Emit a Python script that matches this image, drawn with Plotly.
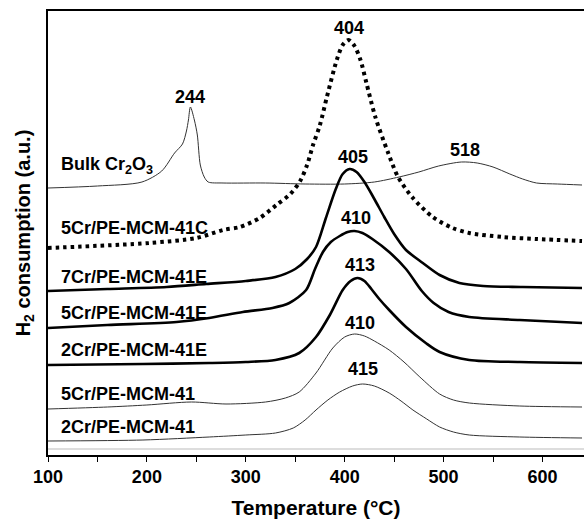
import plotly.graph_objects as go

# ---- data (temperature in °C, signal in arbitrary units, curves already offset) ----
bulk_T = [100, 150, 195, 215, 228, 236, 240, 242, 244, 248, 251, 254, 258, 262, 277, 320, 360, 400, 430,
          455, 475, 495, 518, 534, 550, 567, 580, 594, 615, 640]
bulk_y = [267, 269, 273, 284, 302, 311, 324, 335, 348, 335, 320, 290, 278, 273, 272, 272, 271, 271, 273,
          278, 283, 289, 293, 292, 288, 281, 276, 272, 271, 270]

c41C_T = [100, 202, 250, 277, 294, 314, 331, 345, 355, 362, 368, 375, 382, 392, 398, 404, 410, 416, 422,
          431, 444, 454, 469, 489, 509, 526, 560, 594, 640]
c41C_y = [207, 212, 217, 225, 228, 237, 250, 261, 274, 290, 310, 330, 358, 395, 410, 415, 409, 395, 372,
          338, 302, 278, 257, 238, 227, 222, 218, 216, 214]

e7_T = [100, 160, 220, 260, 300, 330, 350, 362, 371, 381, 391, 398, 405, 412, 420, 430, 440, 450, 462,
        479, 496, 516, 540, 580, 640]
e7_y = [164, 166, 168, 171, 174, 178, 186, 196, 208, 237, 266, 281, 286, 283, 273, 256, 238, 221, 205,
        192, 180, 172, 169, 168, 167]

e5_T = [100, 160, 230, 263, 297, 327, 344, 361, 370, 378, 386, 395, 403, 410, 418, 428, 445, 462, 478,
        490, 505, 526, 577, 640]
e5_y = [127, 130, 133, 137, 143, 147, 152, 165, 186, 203, 213, 219, 223, 224, 222, 216, 203, 186, 164,
        152, 143, 138, 135, 132]

e2_T = [100, 196, 263, 300, 330, 354, 371, 385, 398, 406, 413, 420, 427, 435, 445, 462, 482, 496, 526,
        577, 640]
e2_y = [90, 91, 92, 93, 95, 102, 118, 140, 165, 174, 177, 174, 166, 156, 145, 128, 112, 103, 95, 93, 92]

p5_T = [100, 160, 200, 245, 280, 320, 340, 354, 371, 388, 400, 410, 420, 430, 445, 460, 476, 496, 510,
        526, 577, 640]
p5_y = [46, 48, 50, 53, 51, 53, 57, 63, 82, 107, 118, 121, 119, 114, 105, 93, 78, 61, 55, 52, 49, 48]

p2_T = [100, 196, 263, 300, 330, 348, 360, 371, 383, 395, 408, 418, 430, 445, 457, 469, 483, 496, 510,
        526, 577, 640]
p2_y = [14, 15, 18, 20, 22, 27, 35, 45, 55, 63, 69, 71, 69, 62, 54, 45, 36, 28, 23, 20, 18, 17]

series_names = ["Bulk Cr<sub>2</sub>O<sub>3</sub>", "5Cr/PE-MCM-41C", "7Cr/PE-MCM-41E",
                "5Cr/PE-MCM-41E", "2Cr/PE-MCM-41E", "5Cr/PE-MCM-41", "2Cr/PE-MCM-41"]
name_label_y = [290, 227, 178, 142, 105, 61, 28]

peak_T = [244, 404, 518, 405, 410, 413, 410, 415]
peak_label_y = [358, 427, 305, 298, 237, 190, 132, 86]
peak_label_x = [244, 404, 522, 408, 411, 415, 415, 419]

x_ticks = [100, 200, 300, 400, 500, 600]

FONT = "Liberation Sans, Arial, sans-serif"
thin = dict(color="#333333", width=1)
thick = dict(color="black", width=2.6)

fig = go.Figure()
curves = [
    (bulk_T, bulk_y, thin),
    (c41C_T, c41C_y, dict(color="black", width=4, dash="3.5px,4px")),
    (e7_T, e7_y, thick),
    (e5_T, e5_y, thick),
    (e2_T, e2_y, thick),
    (p5_T, p5_y, thin),
    (p2_T, p2_y, thin),
]
for (xs, ys, ln), nm in zip(curves, series_names):
    fig.add_trace(go.Scatter(x=xs, y=ys, mode="lines", line=dict(shape="spline", smoothing=0.8, **ln),
                             name=nm, showlegend=False))

for nm, ly in zip(series_names, name_label_y):
    fig.add_annotation(x=111, y=ly, text=nm, showarrow=False, xanchor="left", yanchor="middle",
                       font=dict(family=FONT, size=18, color="black", weight="bold"))

for t, lx, ly in zip(peak_T, peak_label_x, peak_label_y):
    fig.add_annotation(x=lx, y=ly, text=str(t), showarrow=False, xanchor="center", yanchor="middle",
                       font=dict(family=FONT, size=18, color="black", weight="bold"))

# faint baseline just above the x axis
fig.add_shape(type="line", xref="paper", x0=0, x1=1, yref="y", y0=6, y1=6,
              line=dict(color="#bbbbbb", width=1))

fig.update_layout(
    width=584, height=519,
    margin=dict(l=48, r=0, t=11, b=64, pad=0),
    paper_bgcolor="white", plot_bgcolor="white",
    font=dict(family=FONT, color="black"),
)
fig.update_xaxes(range=[100, 642], tickvals=x_ticks, ticks="outside", ticklen=5, tickwidth=1.2,
                 tickcolor="black", showline=True, linecolor="black", linewidth=1.5, mirror=True,
                 showgrid=False, zeroline=False, automargin=False,
                 minor=dict(dtick=50, ticks="outside", ticklen=5, tickwidth=1.2, tickcolor="black"),
                 tickfont=dict(family=FONT, size=18, weight="bold"),
                 title=dict(text="Temperature (°C)", font=dict(family=FONT, size=21, weight="bold"),
                            standoff=15))
fig.update_yaxes(range=[0, 444], showticklabels=False, ticks="", showline=True, linecolor="black",
                 linewidth=1.5, showgrid=False, zeroline=False, automargin=False,
                 title=dict(text="H<sub>2</sub> consumption (a.u.)",
                            font=dict(family=FONT, size=20, weight="bold"), standoff=10))

fig.write_html("out.html")
